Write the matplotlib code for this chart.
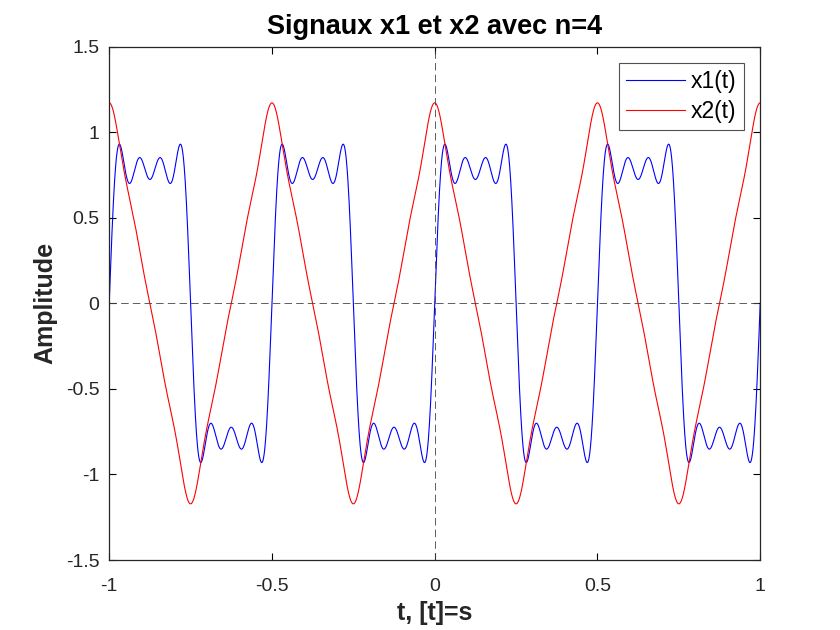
import numpy as np
import matplotlib
matplotlib.use("Agg")
import matplotlib.pyplot as plt

# Fourier terms (n=4 odd harmonics, f0 = 2 Hz)
f0 = 2.0
harmonics = [1, 3, 5, 7]
x1_sin_amp = [1.0, 1/3, 1/5, 1/7]      # flat tops ~0.72..0.93
x2_cos_amp = [1.0, 1/9, 1/25, 1/49]    # peaks ~1.17
t_range = [-1.0, 1.0]
xticks = [-1, -0.5, 0, 0.5, 1]
yticks = [-1.5, -1, -0.5, 0, 0.5, 1, 1.5]

t = np.linspace(t_range[0], t_range[1], 4001)
x1 = np.zeros_like(t)
x2 = np.zeros_like(t)
for k, a, b in zip(harmonics, x1_sin_amp, x2_cos_amp):
    x1 += a*np.sin(2*np.pi*k*f0*t)
    x2 += b*np.cos(2*np.pi*k*f0*t)

plt.rcParams['font.family'] = ['Liberation Sans', 'DejaVu Sans']
txt = '#262626'

fig = plt.figure(figsize=(8.4, 6.3), dpi=100)
ax = fig.add_axes([0.13, 0.111, 0.775, 0.815])

ax.plot(t, x1, color=(0, 0, 1), lw=0.8, label='x1(t)')
ax.plot(t, x2, color=(1, 0, 0), lw=0.8, label='x2(t)')
ax.axhline(0, color='#444444', lw=0.6, ls=(0, (9, 5)))
ax.axvline(0, color='#444444', lw=0.6, ls=(0, (9, 5)))

ax.set_xlim(t_range)
ax.set_ylim(-1.5, 1.5)
ax.set_xticks(xticks)
ax.set_xticklabels(['-1', '-0.5', '0', '0.5', '1'])
ax.set_yticks(yticks)
ax.set_yticklabels(['-1.5', '-1', '-0.5', '0', '0.5', '1', '1.5'])
ax.tick_params(direction='in', length=5, width=0.8, top=True, right=True,
               labelsize=14, colors='black', labelcolor=txt)
ax.tick_params(axis='x', pad=13)
ax.tick_params(axis='y', pad=7)
for s in ax.spines.values():
    s.set_linewidth(0.9)
    s.set_color('#262626')

ax.set_title('Signaux x1 et x2 avec n=4', fontsize=19.5, fontweight='bold', pad=9)
ax.set_xlabel('t, [t]=s', fontsize=18, fontweight='bold', color=txt, labelpad=4)
ax.set_ylabel('Amplitude', fontsize=18, fontweight='bold', color=txt, labelpad=6)

leg = ax.legend(loc='upper right', fontsize=16.5, frameon=True, fancybox=False,
                handlelength=2.6, handletextpad=0.25, borderpad=0.3,
                labelspacing=0.32, borderaxespad=0.72)
leg.get_frame().set_edgecolor('#262626')
leg.get_frame().set_linewidth(0.8)

fig.savefig('out.png', dpi=100)
